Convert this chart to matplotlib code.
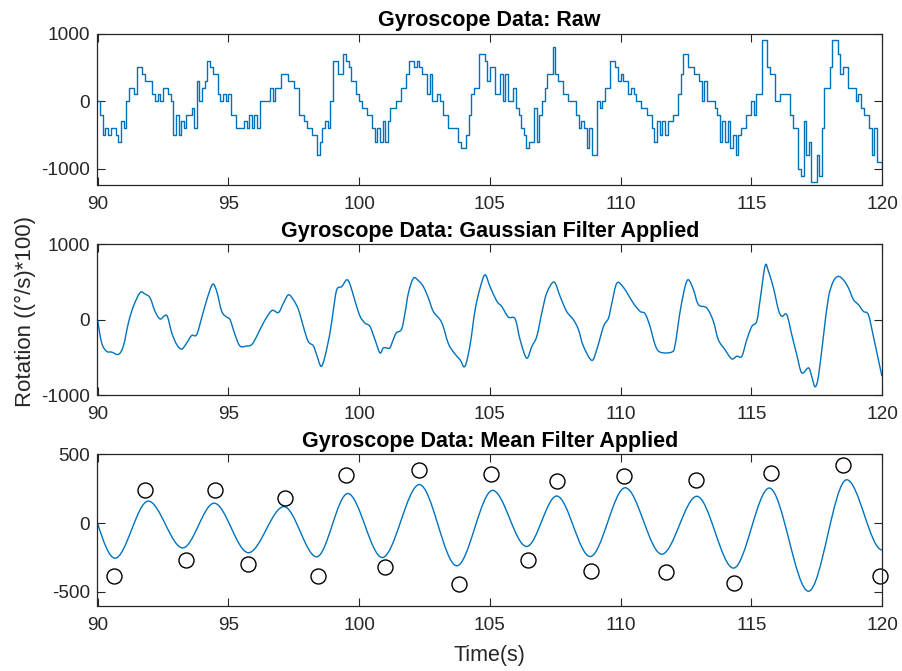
import numpy as np
import matplotlib
matplotlib.use("Agg")
import matplotlib.pyplot as plt
from matplotlib.path import Path
from matplotlib.patches import PathPatch

plt.rcParams['font.family'] = ['Liberation Sans', 'DejaVu Sans']
plt.rcParams['axes.unicode_minus'] = False

# ---------------- data ----------------
# Raw gyroscope signal: held values, one every 0.1 s starting at t = 90 s
raw_start = 90.0
raw_step = 0.1
raw_values = [
    0, -200, -500, -400, -500, -400, -400, -500, -600, -300,
    -400, 0, 200, 200, 100, 500, 500, 400, 300, 300,
    300, 100, 0, 100, 0, 200, 200, 100, 0, -500,
    -200, -500, -300, -400, -200, -200, -100, -400, 300, 0,
    200, 300, 600, 500, 400, 400, 100, 0, 100, 0,
    100, -200, -200, -400, -400, -400, -300, -400, -200, -400,
    -200, -400, 0, 0, 0, 0, 200, 0, 200, 200,
    400, 400, 400, 300, 300, 200, 200, -200, -200, -300,
    -400, -400, -500, -500, -800, -600, -400, -300, -400, 0,
    600, 600, 400, 400, 700, 600, 500, 300, 300, 100,
    0, -100, -100, -200, -200, -400, -600, -400, -600, -300,
    -600, -300, -100, -100, 0, 0, 200, 200, 400, 600,
    600, 500, 600, 500, 400, 400, 100, 400, 0, 0,
    100, 0, -200, -200, -400, -400, -400, -400, -600, -700,
    -700, -500, -200, 100, 200, 200, 700, 700, 600, 300,
    500, 500, 100, 100, 400, 0, 400, 0, 0, 200,
    -100, -200, -400, -500, -700, -600, -600, -100, -600, -200,
    0, 200, 400, 400, 800, 400, 300, 300, 100, 100,
    0, 0, 0, -200, -400, -300, -400, -700, -400, -800,
    -800, 0, -100, 0, 200, 200, 600, 600, 500, 300,
    400, 300, 300, 100, 200, 100, 0, 0, -100, -100,
    -200, -200, -400, -600, -300, -500, -300, -500, -300, -300,
    -200, -200, 100, 400, 700, 700, 500, 500, 400, 400,
    300, 0, 300, 0, 0, 0, -100, -200, -600, -300,
    -600, -300, -700, -500, -800, -500, -400, -400, -200, -200,
    0, -200, 100, 100, 900, 900, 500, 400, 400, 0,
    0, 100, 100, 100, 100, -200, -400, -400, -1000, -1100,
    -300, -800, -600, -1200, -1200, -800, -1100, -400, 200, 200,
    500, 900, 900, 700, 400, 500, 500, 200, 200, 200,
    0, 100, -100, -200, -200, -400, -800, -400, -900, -900,
    -1000,
]

# Gaussian-filtered signal (time in s, value)
gauss_t = [
    90.00, 90.16, 90.35, 90.54, 90.80, 90.99, 91.18, 91.37, 91.63, 91.82,
    92.01, 92.20, 92.39, 92.54, 92.67, 92.84, 93.03, 93.22, 93.41, 93.60,
    93.79, 93.98, 94.18, 94.40, 94.56, 94.75, 94.94, 95.07, 95.26, 95.45,
    95.70, 95.90, 96.09, 96.34, 96.66, 96.92, 97.11, 97.30, 97.49, 97.69,
    97.87, 98.06, 98.25, 98.38, 98.55, 98.70, 98.89, 99.02, 99.15, 99.34,
    99.53, 99.66, 99.85, 100.04, 100.23, 100.42, 100.61, 100.80, 100.93, 101.06,
    101.18, 101.31, 101.43, 101.63, 101.76, 101.89, 102.08, 102.27, 102.46, 102.65,
    102.84, 103.10, 103.22, 103.41, 103.61, 103.86, 104.05, 104.25, 104.44, 104.63,
    104.82, 105.01, 105.27, 105.46, 105.71, 105.97, 106.16, 106.41, 106.61, 106.80,
    106.99, 107.18, 107.46, 107.69, 107.94, 108.20, 108.39, 108.58, 108.90, 109.09,
    109.35, 109.54, 109.67, 109.86, 110.11, 110.49, 110.75, 110.94, 111.13, 111.32,
    111.51, 111.96, 112.09, 112.28, 112.47, 112.60, 112.79, 112.98, 113.30, 113.55,
    113.74, 114.00, 114.25, 114.45, 114.64, 114.83, 115.02, 115.21, 115.34, 115.53,
    115.66, 115.85, 116.04, 116.17, 116.36, 116.55, 116.74, 116.93, 117.19, 117.31,
    117.44, 117.57, 117.76, 117.95, 118.14, 118.33, 118.52, 118.72, 118.91, 119.10,
    119.29, 119.48, 119.67, 119.86, 120.00,
]
gauss_v = [
    0, -310, -420, -430, -460, -350, -45, 175, 360, 340,
    290, 110, 10, 45, 45, -175, -330, -390, -310, -210,
    -200, 20, 265, 470, 375, 110, 35, 0, -200, -350,
    -350, -330, -220, -45, 120, 95, 220, 330, 265, 130,
    -90, -290, -345, -465, -620, -485, -175, 130, 400, 440,
    530, 465, 245, 45, -45, -90, -265, -440, -375, -375,
    -375, -265, -175, -125, 90, 355, 550, 520, 440, 290,
    110, 0, -90, -310, -430, -530, -620, -330, 130, 420,
    595, 440, 245, 175, 35, 10, -265, -510, -355, -220,
    90, 355, 500, 310, 110, 0, -130, -350, -540, -400,
    -90, 20, 220, 485, 430, 220, 110, 80, -90, -330,
    -430, -430, -330, 110, 440, 530, 400, 200, 155, -20,
    -265, -400, -520, -485, -485, -265, -90, -20, 265, 715,
    640, 420, 130, 45, 65, -200, -465, -705, -640, -750,
    -890, -750, -220, 290, 510, 575, 530, 420, 265, 200,
    110, 65, -220, -530, -750,
]

# Mean-filtered signal: turning points of the smooth curve (time, value)
mean_t = [
    90.00, 90.67, 91.94, 93.26, 94.46, 95.77, 97.13, 98.38, 99.57, 100.89,
    102.31, 103.74, 105.11, 106.41, 107.56, 108.84, 110.18, 111.58, 112.92, 114.32,
    115.69, 117.19, 118.65, 120.00,
]
mean_v = [
    0, -255, 160, -180, 145, -215, 120, -245, 215, -250,
    280, -310, 238, -170, 197, -243, 257, -226, 195, -327,
    255, -495, 315, -195,
]

# Detected peaks / troughs (circles)
peak_t = [
    90.63, 91.82, 93.37, 94.49, 95.74, 97.17, 98.42, 99.50, 101.00, 102.29,
    103.84, 105.05, 106.48, 107.56, 108.87, 110.14, 111.74, 112.89, 114.34, 115.76,
    118.52, 119.93,
]
peak_v = [
    -387, 238, -267, 238, -296, 183, -387, 346, -322, 389,
    -442, 358, -267, 303, -351, 341, -358, 310, -435, 363,
    425, -387,
]

titles = [
    "Gyroscope Data: Raw",
    "Gyroscope Data: Gaussian Filter Applied",
    "Gyroscope Data: Mean Filter Applied",
]
x_ticks = [90, 95, 100, 105, 110, 115, 120]
y_ticks = [[-1000, 0, 1000], [-1000, 0, 1000], [-500, 0, 500]]
y_lims = [(-1240, 1000), (-1000, 1000), (-600, 500)]

# ---------------- style ----------------
LINE = '#0072BD'
AXC = '#262626'
W, H = 903, 671
fig = plt.figure(figsize=(W / 100, H / 100), dpi=100)

left = 97.5 / W
width = (882 - 97.5) / W
boxes = [(33.5, 185.0), (244.4, 395.0), (454.3, 605.7)]
axes = []
for (top, bot) in boxes:
    ax = fig.add_axes([left, 1 - bot / H, width, (bot - top) / H])
    axes.append(ax)

for i, ax in enumerate(axes):
    ax.set_xlim(90, 120)
    ax.set_ylim(*y_lims[i])
    ax.set_xticks(x_ticks)
    ax.set_yticks(y_ticks[i])
    ax.tick_params(direction='in', length=5.6, width=0.8, colors=AXC,
                   labelsize=13.7, top=True, right=True, pad=5.4)
    ax.tick_params(axis='x', pad=8)
    for sp in ax.spines.values():
        sp.set_color(AXC)
        sp.set_linewidth(0.9)
    ax.set_title(titles[i], fontsize=15.5, fontweight='bold', pad=5.5,
                 color='black')


def smooth_path(ts, vs):
    """Cubic curve passing through every read point (Catmull-Rom handles)."""
    pts = list(zip(ts, vs))
    n = len(pts)
    verts = [pts[0]]
    codes = [Path.MOVETO]
    for i in range(n - 1):
        p0 = pts[max(i - 1, 0)]
        p1 = pts[i]
        p2 = pts[i + 1]
        p3 = pts[min(i + 2, n - 1)]
        c1 = (p1[0] + (p2[0] - p0[0]) / 6, p1[1] + (p2[1] - p0[1]) / 6)
        c2 = (p2[0] - (p3[0] - p1[0]) / 6, p2[1] - (p3[1] - p1[1]) / 6)
        verts += [c1, c2, p2]
        codes += [Path.CURVE4] * 3
    return Path(verts, codes)


# Raw
raw_t = raw_start + raw_step * np.arange(len(raw_values))
axes[0].plot(raw_t, raw_values, drawstyle='steps-post', color=LINE, lw=1.0)

# Gaussian
axes[1].add_patch(PathPatch(smooth_path(gauss_t, gauss_v), fill=False,
                            edgecolor=LINE, lw=1.0))

# Mean filter: smooth curve through the turning points
verts = [(mean_t[0], mean_v[0])]
codes = [Path.MOVETO]
for i in range(len(mean_t) - 1):
    t0, v0 = mean_t[i], mean_v[i]
    t1, v1 = mean_t[i + 1], mean_v[i + 1]
    dt = t1 - t0
    if i == 0:
        c1 = (t0 + dt / 3, v0 + (v1 - v0) * np.pi / 6)
    else:
        c1 = (t0 + dt / 3, v0)
    c2 = (t1 - dt / 3, v1)
    verts += [c1, c2, (t1, v1)]
    codes += [Path.CURVE4] * 3
axes[2].add_patch(PathPatch(Path(verts, codes), fill=False, edgecolor=LINE,
                            lw=1.0))
axes[2].plot(peak_t, peak_v, 'o', mfc='none', mec='black', ms=10.8, mew=1.0,
             clip_on=False)

axes[2].set_xlabel("Time(s)", fontsize=15.5, color=AXC, labelpad=8)
fig.text(25 / W, 1 - 312 / H, "Rotation ((°/s)*100)", rotation=90,
         ha='center', va='center', fontsize=16, color=AXC)

fig.savefig("out.png", dpi=100)
